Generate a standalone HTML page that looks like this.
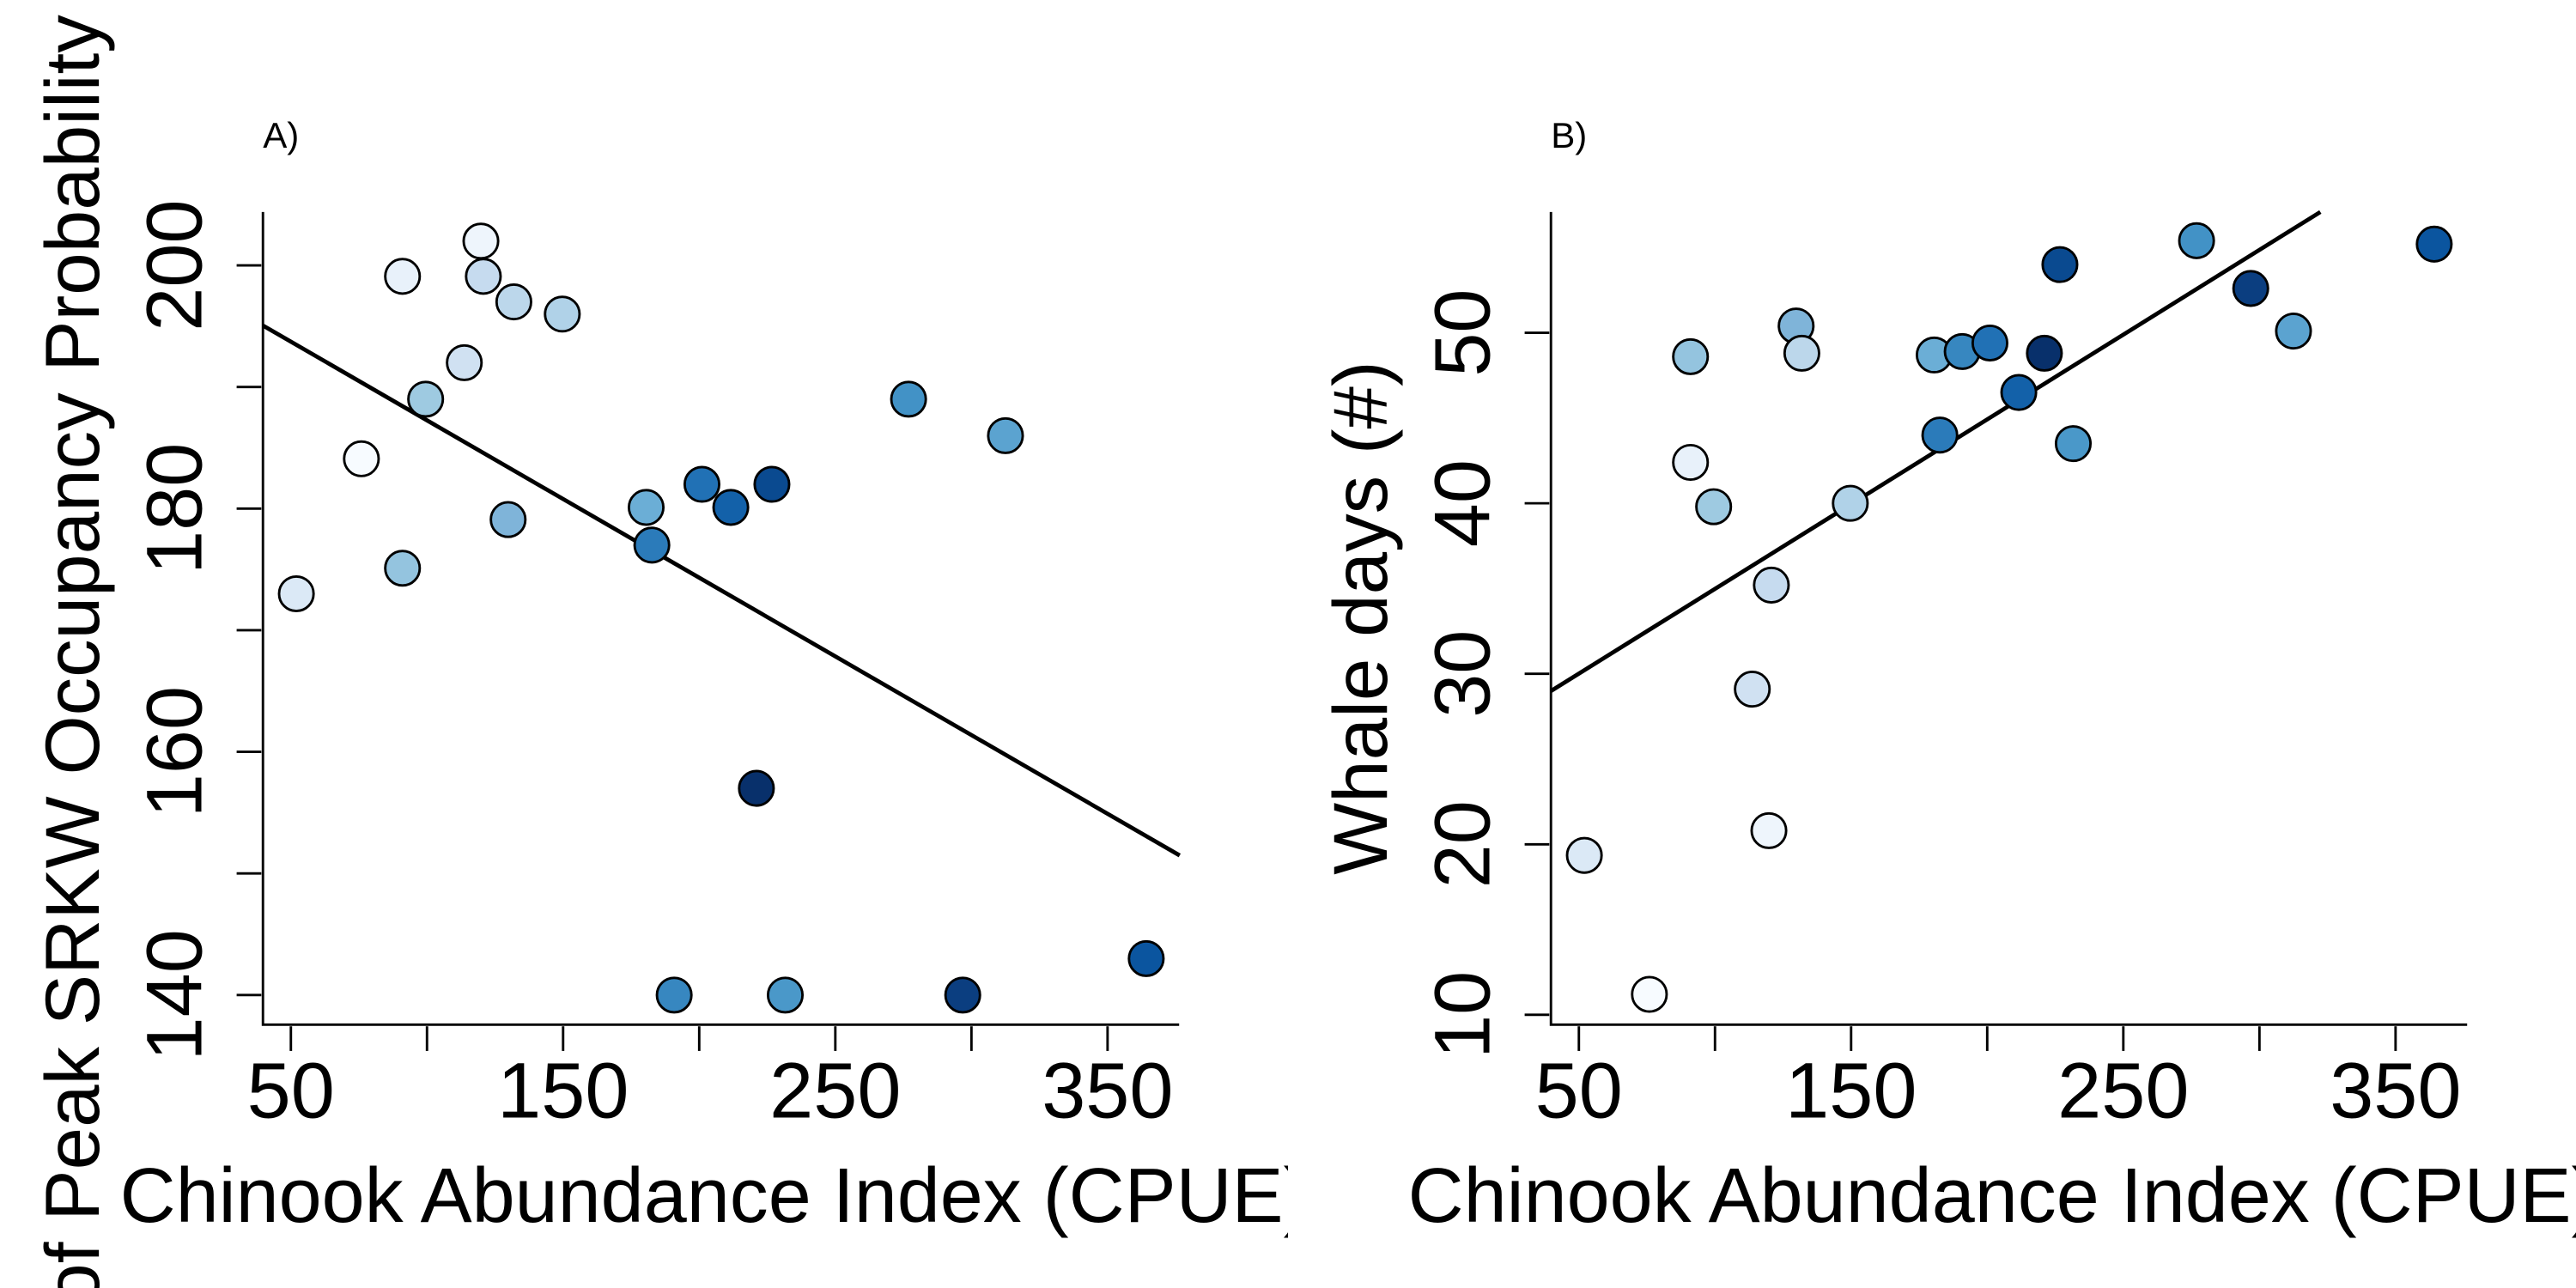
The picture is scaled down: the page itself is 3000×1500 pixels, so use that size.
<!DOCTYPE html>
<html><head><meta charset="utf-8"><style>
html,body{margin:0;padding:0;background:#fff;width:3000px;height:1500px;overflow:hidden;}
svg{display:block;overflow:hidden;}
text{font-family:"Liberation Sans",Arial,sans-serif;fill:#000;}
</style></head><body>
<svg id="chart" width="3000" height="1500" viewBox="0 0 3135 1567.5" xmlns="http://www.w3.org/2000/svg">
<defs>
<clipPath id="clipA"><rect x="0" y="0" width="1567.5" height="1567.5"/></clipPath>
<clipPath id="clipB"><rect x="0" y="0" width="1567.5" height="1567.5"/></clipPath>
</defs>
</svg>
<script>
// shared x values (Chinook CPUE)
const cpue = [52, 75.9, 91, 91, 99.5, 113.7, 119.8, 120.7, 129.8, 131.9, 149.7, 180.5, 182.6, 190.8, 201, 211.6, 221, 226.7, 231.6, 276.9, 296.8, 312.5, 364.2];
// panel A: day of peak occupancy
const peakDay = [173, 184.1, 199.1, 175.1, 189, 192, 202, 199.1, 179.1, 197, 196, 180.1, 177, 140, 182, 180.1, 157, 182, 140, 189, 140, 186, 143];
// panel B: whale days
const whaleDays = [19.35, 11.2, 42.4, 48.6, 39.8, 29.1, 20.8, 35.2, 50.4, 48.8, 40, 48.7, 44, 48.9, 49.4, 46.5, 48.8, 54, 43.5, 55.4, 52.6, 50.1, 55.2];
const pointColors = ["#dbe9f6","#f7fbff","#e8f1fa","#94c4df","#9ecae1","#d0e1f2","#eef5fc","#c6dbef","#7fb4d9","#bcd7eb","#b0d2e8","#6baed6","#2b7bba","#3787c0","#2171b5","#1361a9","#08306b","#0a4a90","#4a98c9","#4292c6","#0b3e80","#5ba3d0","#0b559f"];
const xTicks = [50, 100, 150, 200, 250, 300, 350];
const xTickLabels = ["50", "", "150", "", "250", "", "350"];
const yTicksA = [140, 150, 160, 170, 180, 190, 200];
const yTickLabelsA = ["140", "", "160", "", "180", "", "200"];
const yTicksB = [10, 20, 30, 40, 50];
const yTickLabelsB = ["10", "20", "30", "40", "50"];
const fitA = [200.2, -0.1294]; // intercept, slope
const fitB = [25.04, 0.0994];

const NS = "http://www.w3.org/2000/svg";
const svg = document.getElementById('chart');
function mk(tag, attrs, parent){ const e=document.createElementNS(NS,tag); for(const k in attrs) e.setAttribute(k,attrs[k]); parent.appendChild(e); return e; }

const L=320, R=1435, T=258, B=1247;
const xScale = v => 354 + (v-50)*3.313;

function panel(opts){
  const g = mk('g',{transform:`translate(${opts.ox},0)`,'clip-path':`url(#${opts.clip})`},svg);
  
  
  const ys = opts.yScale;
  const lab = mk('text',{x:320,y:180,'font-size':44},g); lab.textContent=opts.label;
  
  
  const ax = mk('path',{d:`M${L},${T} L${L},${B} L${R},${B}`,fill:'none',stroke:'#000','stroke-width':3},g);
  
  
  xTicks.forEach((t,i)=>{
    const x=xScale(t);
    const tk=mk('line',{x1:x,x2:x,y1:B+2,y2:B+32,stroke:'#000','stroke-width':3},g);
    
    
    if(xTickLabels[i]){
      const tx=mk('text',{x:x,y:1360,'font-size':96,'text-anchor':'middle'},g); tx.textContent=xTickLabels[i];
      
      
    }
  });
  opts.yTicks.forEach((t,i)=>{
    const y=ys(t);
    const tk=mk('line',{x1:L-2,x2:L-32,y1:y,y2:y,stroke:'#000','stroke-width':3},g);
    
    
    if(opts.yLabels[i]){
      const tx=mk('text',{x:0,y:0,'font-size':96,'text-anchor':'middle',transform:`translate(245,${y}) rotate(-90)`},g); tx.textContent=opts.yLabels[i];
      
      
    }
  });
  const xt=mk('text',{x:(L+R)/2-8,y:1487,'font-size':94,'text-anchor':'middle'},g); xt.textContent='Chinook Abundance Index (CPUE)';
  
  
  const yt=mk('text',{x:0,y:0,'font-size':93,'text-anchor':opts.yAnchor,transform:`translate(120,${opts.yTitlePos}) rotate(-90)`},g); yt.textContent=opts.yTitle;
  
  
  const x0=39.7, x1=376.5;
  let ya=opts.fit[0]+opts.fit[1]*x0, yb=opts.fit[0]+opts.fit[1]*x1;
  let px0=xScale(x0), px1=xScale(x1), py0=ys(ya), py1=ys(yb);
  if(py1<T){ const f=(T-py0)/(py1-py0); px1=px0+f*(px1-px0); py1=T; }
  const ln=mk('line',{x1:px0,y1:py0,x2:px1,y2:py1,stroke:'#000','stroke-width':5},g);
  
  
  cpue.forEach((v,i)=>{
    const c=mk('circle',{cx:xScale(v),cy:ys(opts.yData[i]),r:21,fill:pointColors[i],stroke:'#000','stroke-width':3},g);
    
    
  });
}

panel({ox:0,clip:'clipA',name:'panel-a',label:'A)',yScale:v=>323+(200-v)*14.8,yTicks:yTicksA,yLabels:yTickLabelsA,
  yTitle:'Day of Peak SRKW Occupancy Probability',yAnchor:'end',yTitlePos:18,fit:fitA,yData:peakDay});
panel({ox:1567.5,clip:'clipB',name:'panel-b',label:'B)',yScale:v=>405+(50-v)*20.75,yTicks:yTicksB,yLabels:yTickLabelsB,
  yTitle:'Whale days (#)',yAnchor:'middle',yTitlePos:752,fit:fitB,yData:whaleDays});
</script>
</body></html>
